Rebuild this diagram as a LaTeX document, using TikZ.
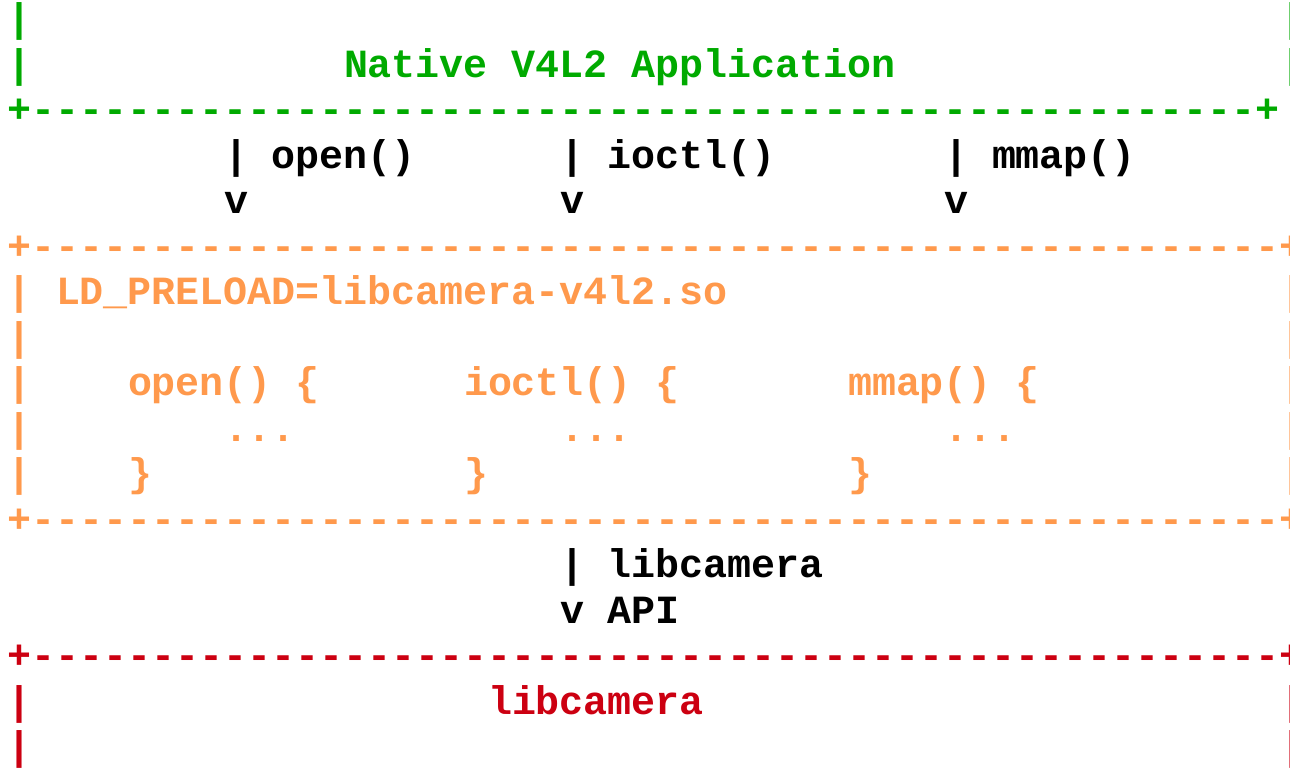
\documentclass[tikz,border=0pt]{standalone}
\usepackage{fontspec}
\setmonofont{Liberation Mono}
\usetikzlibrary{positioning}

% one row of the ascii box edge: + ---- +
\newcommand{\dashrow}[1]{+\foreach \d in {1,...,#1}{-}+}

\begin{document}
\begin{tikzpicture}[x=0.02cm, y=-0.02cm,
  ascii/.style={inner sep=0pt, outer sep=0pt, anchor=base west,
    font=\ttfamily\bfseries\fontsize{22.76pt}{27pt}\selectfont}]

% Define colors for each layer
\definecolor{appgreen}{RGB}{0,170,0}
\definecolor{preload}{RGB}{255,153,76}
\definecolor{camred}{RGB}{204,0,17}

\useasboundingbox (0,0) rectangle (1290,767);
\clip (0,0) rectangle (1290,767);

% Native application box
\foreach \r [count=\i] in {31.5,77} {
  \node[ascii, text=appgreen] (appL\i) at (8,\r) {|};
  \node[ascii, text=appgreen] (appR\i) at (1280,\r) {|};
}
\node[ascii, text=appgreen] (apptitle) at (344,77) {Native V4L2 Application};
\node[ascii, text=appgreen] (appbottom) at (8,122.5) {\dashrow{51}};

% System calls going down
\node[ascii] (callopen) at (224,168) {| open()};
\node[ascii] (callioctl) at (560,168) {| ioctl()};
\node[ascii] (callmmap) at (944,168) {| mmap()};
\node[ascii] (arropen) at (224,213.5) {v};
\node[ascii] (arrioctl) at (560,213.5) {v};
\node[ascii] (arrmmap) at (944,213.5) {v};

% Preload layer
\node[ascii, text=preload] (pretop) at (8,259) {\dashrow{52}};
\foreach \r [count=\i] in {304.5,350,395.5,441,486.5} {
  \node[ascii, text=preload] (preL\i) at (8,\r) {|};
  \node[ascii, text=preload] (preR\i) at (1280,\r) {|};
}
\node[ascii, text=preload] (pretitle) at (56,304.5) {LD\_PRELOAD=libcamera-v4l2.so};
\node[ascii, text=preload] (fnopen) at (128,395.5) {open() \{};
\node[ascii, text=preload] (fnioctl) at (464,395.5) {ioctl() \{};
\node[ascii, text=preload] (fnmmap) at (848,395.5) {mmap() \{};
\foreach \c/\n in {224/open,560/ioctl,944/mmap} {
  \node[ascii, text=preload] (body\n) at (\c,441) {...};
}
\foreach \c/\n in {128/open,464/ioctl,848/mmap} {
  \node[ascii, text=preload] (end\n) at (\c,486.5) {\}};
}
\node[ascii, text=preload] (prebottom) at (8,532) {\dashrow{52}};

% libcamera API call
\node[ascii] (apicall) at (560,577.5) {| libcamera};
\node[ascii] (apiarrow) at (560,623) {v API};

% libcamera box
\node[ascii, text=camred] (camtop) at (8,668.5) {\dashrow{52}};
\foreach \r [count=\i] in {714,759.5} {
  \node[ascii, text=camred] (camL\i) at (8,\r) {|};
  \node[ascii, text=camred] (camR\i) at (1280,\r) {|};
}
\node[ascii, text=camred] (camtitle) at (488,714) {libcamera};

\end{tikzpicture}
\end{document}
